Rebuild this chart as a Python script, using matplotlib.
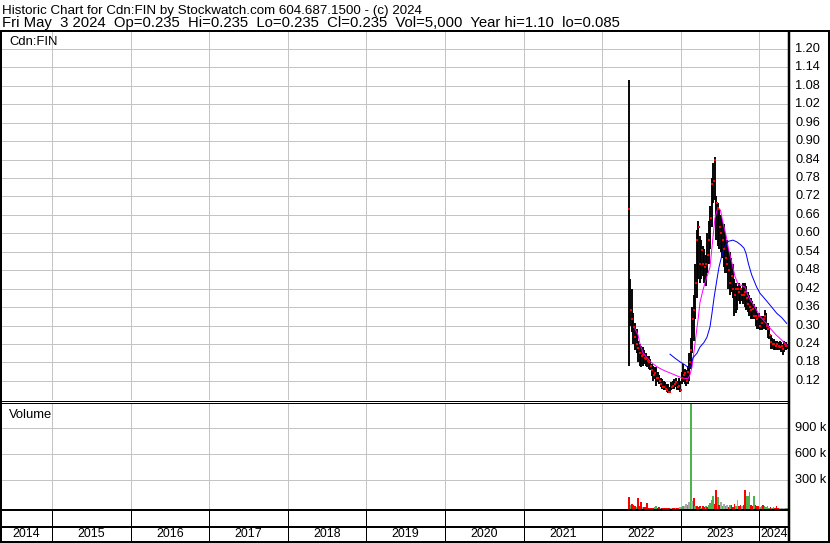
import matplotlib
matplotlib.use("Agg")
import matplotlib.pyplot as plt
from matplotlib.transforms import blended_transform_factory
import numpy as np

plt.rcParams['font.family'] = ['Liberation Sans', 'DejaVu Sans']

# ---------------- data ----------------
header_line1 = "Historic Chart for Cdn:FIN by Stockwatch.com 604.687.1500 - (c) 2024"
header_line2 = "Fri May  3 2024  Op=0.235  Hi=0.235  Lo=0.235  Cl=0.235  Vol=5,000  Year hi=1.10  lo=0.085"
symbol_label = "Cdn:FIN"
volume_label = "Volume"

years = [2014, 2015, 2016, 2017, 2018, 2019, 2020, 2021, 2022, 2023, 2024]
price_ticks = [0.12, 0.18, 0.24, 0.30, 0.36, 0.42, 0.48, 0.54, 0.60, 0.66,
               0.72, 0.78, 0.84, 0.90, 0.96, 1.02, 1.08, 1.14, 1.20]
price_tick_labels = ["0.12", "0.18", "0.24", "0.30", "0.36", "0.42", "0.48", "0.54", "0.60", "0.66",
                     "0.72", "0.78", "0.84", "0.90", "0.96", "1.02", "1.08", "1.14", "1.20"]
vol_ticks = [300000, 600000, 900000]
vol_tick_labels = ["300 k", "600 k", "900 k"]

# weekly bars, first week starting early May 2022 (decimal years)
week0 = 2022.341
week_step = 7 / 365.25

wk_high = [1.10, 0.45, 0.42, 0.34, 0.31, 0.29, 0.25, 0.24, 0.235, 0.23,
           0.22, 0.21, 0.20, 0.20, 0.19, 0.175, 0.17, 0.165, 0.165, 0.15,
           0.14, 0.13, 0.125, 0.12, 0.115, 0.11, 0.11, 0.10, 0.115, 0.12,
           0.125, 0.13, 0.12, 0.13, 0.12, 0.15, 0.175, 0.16, 0.155, 0.17,
           0.21, 0.26, 0.36, 0.40, 0.50, 0.61, 0.64, 0.59, 0.58, 0.56,
           0.55, 0.53, 0.60, 0.64, 0.69, 0.78, 0.83, 0.85, 0.72, 0.70,
           0.68, 0.66, 0.64, 0.63, 0.60, 0.58, 0.55, 0.54, 0.52, 0.50,
           0.45, 0.44, 0.43, 0.44, 0.43, 0.42, 0.44, 0.44, 0.43, 0.41,
           0.40, 0.39, 0.38, 0.37, 0.36, 0.34, 0.34, 0.33, 0.33, 0.33,
           0.35, 0.34, 0.31, 0.30, 0.27, 0.26, 0.255, 0.25, 0.25, 0.245,
           0.25, 0.245, 0.24, 0.25, 0.245, 0.24, 0.235]
wk_low = [0.17, 0.30, 0.28, 0.24, 0.22, 0.21, 0.18, 0.17, 0.165, 0.17,
          0.175, 0.17, 0.165, 0.16, 0.155, 0.135, 0.12, 0.125, 0.105, 0.115,
          0.11, 0.10, 0.095, 0.09, 0.09, 0.085, 0.08, 0.08, 0.09, 0.095,
          0.095, 0.10, 0.09, 0.09, 0.085, 0.11, 0.115, 0.11, 0.105, 0.11,
          0.12, 0.16, 0.21, 0.25, 0.32, 0.39, 0.45, 0.44, 0.45, 0.46,
          0.44, 0.43, 0.47, 0.50, 0.55, 0.62, 0.70, 0.71, 0.58, 0.56,
          0.55, 0.54, 0.52, 0.49, 0.47, 0.47, 0.42, 0.40, 0.41, 0.39,
          0.33, 0.34, 0.35, 0.38, 0.37, 0.38, 0.37, 0.36, 0.35, 0.345,
          0.33, 0.32, 0.32, 0.32, 0.30, 0.29, 0.29, 0.285, 0.285, 0.29,
          0.29, 0.285, 0.26, 0.255, 0.225, 0.225, 0.22, 0.22, 0.22, 0.22,
          0.22, 0.215, 0.205, 0.215, 0.22, 0.225, 0.235]
wk_close = [0.68, 0.35, 0.32, 0.295, 0.263, 0.24, 0.226, 0.21, 0.20, 0.205,
            0.195, 0.19, 0.185, 0.18, 0.17, 0.155, 0.14, 0.145, 0.13, 0.13,
            0.12, 0.11, 0.10, 0.10, 0.095, 0.09, 0.085, 0.085, 0.10, 0.105,
            0.11, 0.115, 0.10, 0.105, 0.09, 0.13, 0.14, 0.145, 0.12, 0.15,
            0.18, 0.22, 0.32, 0.35, 0.44, 0.58, 0.62, 0.50, 0.545, 0.50,
            0.49, 0.50, 0.53, 0.58, 0.65, 0.76, 0.77, 0.84, 0.70, 0.68,
            0.62, 0.60, 0.58, 0.55, 0.52, 0.50, 0.48, 0.44, 0.46, 0.42,
            0.40, 0.42, 0.42, 0.41, 0.42, 0.40, 0.40, 0.41, 0.39, 0.37,
            0.36, 0.35, 0.355, 0.33, 0.33, 0.32, 0.33, 0.30, 0.31, 0.32,
            0.33, 0.30, 0.29, 0.27, 0.245, 0.24, 0.24, 0.235, 0.24, 0.235,
            0.23, 0.235, 0.225, 0.24, 0.235, 0.235, 0.235]
# volume in thousands of shares
wk_vol_k = [140, 50, 60, 45, 40, 25, 125, 30, 85, 25,
            20, 20, 70, 15, 12, 12, 10, 25, 30, 10,
            25, 8, 8, 10, 8, 10, 8, 12, 8, 15,
            10, 8, 10, 15, 20, 25, 40, 30, 60, 45,
            80, 1500, 88, 125, 30, 40, 25, 35, 15, 40,
            20, 30, 25, 45, 70, 105, 155, 60, 215, 140,
            45, 85, 40, 55, 30, 50, 25, 45, 50, 20,
            60, 40, 100, 30, 45, 30, 50, 215, 150, 145,
            200, 50, 40, 155, 50, 30, 40, 25, 30, 45,
            30, 20, 40, 15, 25, 15, 20, 8, 30, 15,
            10, 8, 15, 12, 8, 6, 5]
# r = down, g = up, n = unchanged
wk_dir = ("rgrrrgrrrn" "rrrrrrrggr" "rnrrrrrrnr" "rgrrnggnng"
          "ngnrgrrrgr" "rgrggggrrg" "rngngnrgrr" "rgnrrnrrgg"
          "grrgrrrggr" "ggggrggrrr" "nnnnggg")

# moving averages (decimal year, price)
ma_fast_t = [2022.417, 2022.456, 2022.481, 2022.519, 2022.570, 2022.634, 2022.697, 2022.761,
             2022.824, 2022.901, 2022.964, 2023.028, 2023.092, 2023.117, 2023.143, 2023.168,
             2023.202, 2023.225, 2023.244, 2023.282, 2023.321, 2023.372, 2023.403, 2023.435,
             2023.473, 2023.505, 2023.537, 2023.575, 2023.607, 2023.645, 2023.690, 2023.728,
             2023.779, 2023.817, 2023.855, 2023.893, 2023.944, 2024.008, 2024.084, 2024.148,
             2024.211, 2024.275, 2024.351]
ma_fast_v = [0.29, 0.27, 0.24, 0.212, 0.195, 0.178, 0.166, 0.157,
             0.150, 0.142, 0.135, 0.129, 0.127, 0.140, 0.165, 0.215,
             0.285, 0.33, 0.375, 0.415, 0.450, 0.49, 0.57, 0.650,
             0.685, 0.675, 0.635, 0.595, 0.55, 0.51, 0.46, 0.435,
             0.430, 0.425, 0.398, 0.38, 0.36, 0.330, 0.308, 0.288,
             0.270, 0.255, 0.235]
ma_slow_t = [2022.863, 2022.926, 2022.990, 2023.054, 2023.098, 2023.130, 2023.155, 2023.206,
             2023.244, 2023.295, 2023.333, 2023.372, 2023.397, 2023.423, 2023.457, 2023.486,
             2023.520, 2023.562, 2023.604, 2023.664, 2023.715, 2023.766, 2023.804, 2023.830,
             2023.862, 2023.902, 2023.966, 2024.008, 2024.050, 2024.135, 2024.221, 2024.284,
             2024.348]
ma_slow_v = [0.207, 0.194, 0.182, 0.172, 0.163, 0.170, 0.195, 0.210,
             0.230, 0.245, 0.262, 0.296, 0.34, 0.39, 0.445, 0.49,
             0.525, 0.558, 0.574, 0.578, 0.572, 0.562, 0.552, 0.535,
             0.50, 0.465, 0.425, 0.405, 0.393, 0.367, 0.340, 0.326,
             0.307]

# ---------------- layout ----------------
W, H, DPI = 830, 543, 100
PX = 72.0 / DPI
GRID = '#c4c4c4'
XMIN, XMAX = 2014.351, 2024.377
P_YMIN, P_YMAX = 0.0579, 1.255
V_FLOOR, V_TOP = -37000, 1192000

fig = plt.figure(figsize=(W / DPI, H / DPI), dpi=DPI, facecolor='white')


def add_px_axes(left, top, right, bottom, **kw):
    return fig.add_axes([left / W, 1 - bottom / H, (right - left) / W, (bottom - top) / H], **kw)


ax_p = add_px_axes(1, 32, 789, 400)
ax_v = add_px_axes(1, 403, 789, 509)
ax_y = add_px_axes(1, 509, 789, 542)
for ax in (ax_p, ax_v, ax_y):
    ax.set_xlim(XMIN, XMAX)
    for s in ax.spines.values():
        s.set_visible(False)
    ax.set_xticks([])
    ax.set_yticks([])

# price panel
ax_p.set_ylim(P_YMIN, P_YMAX)
for v in price_ticks:
    ax_p.axhline(v, color=GRID, lw=PX, zorder=0)
for yr in years[1:]:
    ax_p.axvline(yr, color=GRID, lw=PX, zorder=0)
    ax_v.axvline(yr, color=GRID, lw=PX, zorder=0)

wk_t = week0 + np.arange(len(wk_high)) * week_step
ax_p.vlines(wk_t, wk_low, wk_high, color='black', lw=1.9 * PX, zorder=3)
ax_p.plot(ma_fast_t, ma_fast_v, color='#ff00ff', lw=1.0 * PX, zorder=4)
ax_p.plot(ma_slow_t, ma_slow_v, color='#0000ff', lw=1.0 * PX, zorder=4)
ax_p.plot(wk_t + 0.006, wk_close, ls='none', marker='s', ms=2.8 * PX, mew=0,
          color='#ff0000', zorder=5)

tr_p = blended_transform_factory(ax_p.transAxes, ax_p.transData)
lab_x = (795 - 1) / 788.0
for v, s in zip(price_ticks, price_tick_labels):
    ax_p.text(lab_x, v, s, transform=tr_p, ha='left', va='center', fontsize=9.2,
              clip_on=False, color='black')

# volume panel
ax_v.set_ylim(V_FLOOR, V_TOP)
for v in vol_ticks:
    ax_v.axhline(v, color=GRID, lw=PX, zorder=0)
dir_colors = {'r': '#ff0000', 'g': '#4db34d', 'n': '#a8a8a8'}
vcols = [dir_colors[c] for c in wk_dir]
ax_v.bar(wk_t, np.array(wk_vol_k) * 1000.0, bottom=V_FLOOR, width=0.022,
         color=vcols, linewidth=0, zorder=3)
tr_v = blended_transform_factory(ax_v.transAxes, ax_v.transData)
for v, s in zip(vol_ticks, vol_tick_labels):
    ax_v.text(lab_x, v, s, transform=tr_v, ha='left', va='center', fontsize=9.2,
              clip_on=False, color='black')

# year strip
ax_y.set_ylim(0, 1)
for yr in years[1:]:
    ax_y.axvline(yr, color='black', lw=PX, zorder=2)
for yr in years:
    a, b = max(yr, XMIN), min(yr + 1, XMAX)
    ax_y.text((a + b) / 2, 0.23, str(yr), ha='center', va='center', fontsize=8.9, color='black')

# overlay: frame and header
ax_bg = fig.add_axes([0, 0, 1, 1], zorder=10)
ax_bg.set_xlim(0, W)
ax_bg.set_ylim(H, 0)
ax_bg.axis('off')
ax_bg.patch.set_visible(False)


def hline(y, x0, x1, w):
    ax_bg.plot([x0, x1], [y, y], color='black', lw=w * PX, solid_capstyle='butt')


def vline(x, y0, y1, w):
    ax_bg.plot([x, x], [y0, y1], color='black', lw=w * PX, solid_capstyle='butt')


hline(31, 0, W, 2)
hline(542, 0, W, 2)
vline(1, 30, H, 2)
vline(829, 30, H, 2)
vline(789, 30, H, 2.5)
hline(400.5, 0, 789, 1)
hline(402.5, 0, 789, 1)
hline(509.5, 0, 789, 2)
hline(527, 0, 789, 2)

renderer = fig.canvas.get_renderer()


def fit_text(x, y, s, target_w, size0):
    t = ax_bg.text(x, y, s, fontsize=size0, ha='left', va='baseline', color='black')
    w = t.get_window_extent(renderer).width
    t.set_fontsize(size0 * target_w / w)
    return t


fit_text(2, 14, header_line1, 421, 10)
fit_text(2, 27, header_line2, 617, 10)
ax_bg.text(9, 45, symbol_label, fontsize=9.4, ha='left', va='baseline')
ax_bg.text(9, 418, volume_label, fontsize=9.4, ha='left', va='baseline')

fig.savefig('out.png', dpi=DPI, facecolor='white')
